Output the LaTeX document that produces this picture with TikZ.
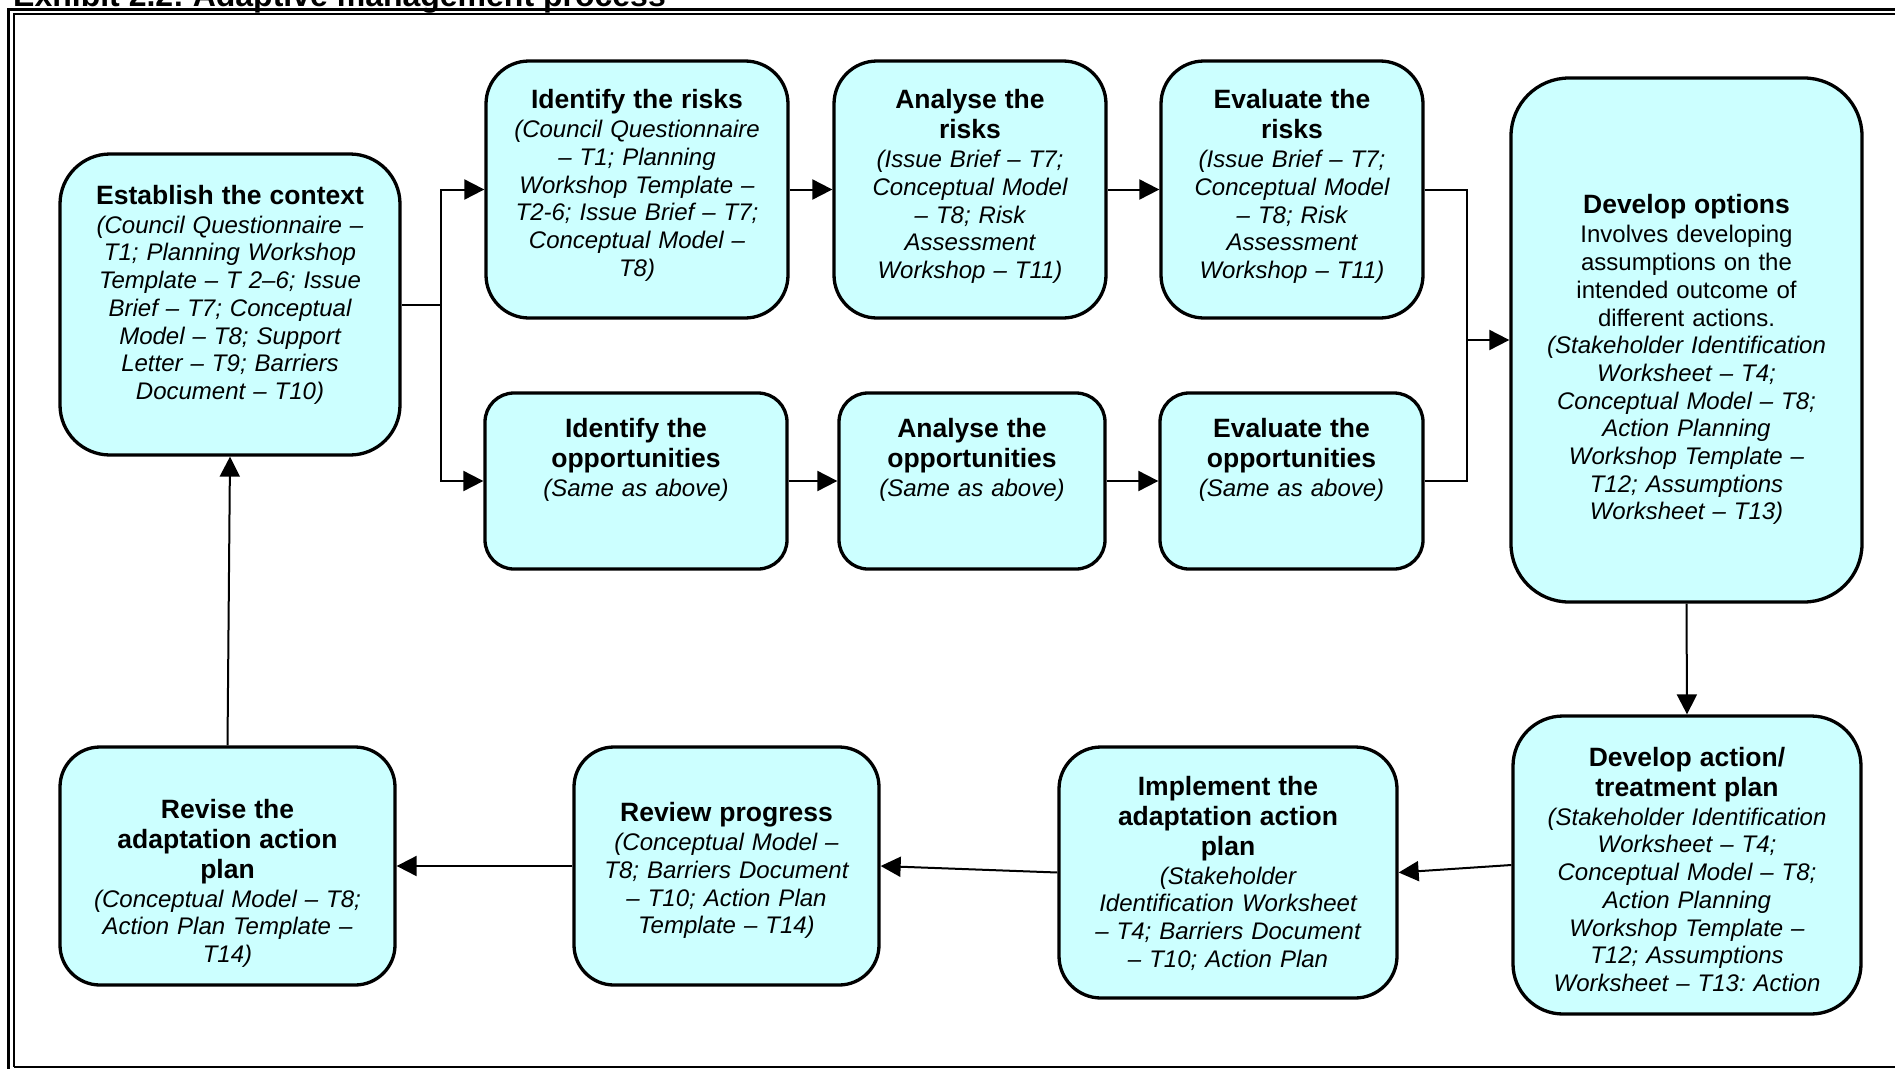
\documentclass[tikz,border=0pt]{standalone}
\usepackage{fontspec}
\setmainfont{Liberation Sans}
\definecolor{mStageFill}{HTML}{CCFFFF}
\usetikzlibrary{arrows.meta}
\frenchspacing

\newcommand{\stagehead}[1]{\noindent{\bfseries\upshape\fontsize{26.5}{30}\selectfont #1\par}\vspace{1.5pt}\noindent}

\begin{document}
\begin{tikzpicture}[x=1pt, y=-1pt,
  stage/.style={draw, line width=3.3pt, fill=mStageFill, rounded corners=#1, inner sep=0pt},
  stagetext/.style={anchor=base, text width=330pt, align=center, inner sep=0pt,
    font=\fontsize{24}{27.7}\selectfont\itshape},
  link/.style={line width=2pt},
  flow/.style={link, -{Triangle[length=20pt, width=20pt]}}]
\useasboundingbox (0,0) rectangle (1895,1068);
\clip (0,0) rectangle (1895,1068);
\node[anchor=base west, inner sep=0pt, font=\fontsize{32}{36}\selectfont\bfseries] (exhibit) at (13,6.5) {Exhibit 2.2: Adaptive management process};
\draw[line width=3.3pt] (8.3,1075) -- (8.3,9.5) -- (1900,9.5);
\draw[line width=2.2pt] (13.8,1066.7) -- (13.8,14) -- (1900,14);
\draw[line width=2pt] (13.8,1066.7) -- (1900,1066.7);

\node[stage=50pt, minimum width=340pt, minimum height=301pt] (context) at (230,304.5) {};
\node[stage=43pt, minimum width=302pt, minimum height=257pt] (idrisk) at (637,189.5) {};
\node[stage=43pt, minimum width=272pt, minimum height=257pt] (anrisk) at (970,189.5) {};
\node[stage=43pt, minimum width=262pt, minimum height=257pt] (evrisk) at (1292,189.5) {};
\node[stage=29pt, minimum width=302pt, minimum height=176pt] (idopp) at (636,481) {};
\node[stage=29pt, minimum width=266pt, minimum height=176pt] (anopp) at (972,481) {};
\node[stage=29pt, minimum width=263pt, minimum height=176pt] (evopp) at (1291.5,481) {};
\node[stage=58pt, minimum width=351pt, minimum height=524pt] (options) at (1686.5,340) {};
\node[stage=50pt, minimum width=348pt, minimum height=298pt] (actplan) at (1687,865) {};
\node[stage=42pt, minimum width=338pt, minimum height=251pt] (implement) at (1228,872.5) {};
\node[stage=40pt, minimum width=305pt, minimum height=238pt] (review) at (726.5,866) {};
\node[stage=40pt, minimum width=335pt, minimum height=238pt] (revise) at (227.5,866) {};

\node[stagetext] (contextT) at (230,204) {\stagehead{Establish the context}(Council Questionnaire –\\ T1; Planning Workshop\\ Template – T 2–6; Issue\\ Brief – T7; Conceptual\\ Model – T8; Support\\ Letter – T9; Barriers\\ Document – T10)};
\node[stagetext] (idriskT) at (637,108.6) {\stagehead{Identify the risks}(Council Questionnaire\\ – T1; Planning\\ Workshop Template –\\ T2-6; Issue Brief – T7;\\ Conceptual Model –\\ T8)};
\node[stagetext] (anriskT) at (970,108.6) {\stagehead{Analyse the\\ risks}(Issue Brief – T7;\\ Conceptual Model\\ – T8; Risk\\ Assessment\\ Workshop – T11)};
\node[stagetext] (evriskT) at (1292,108.6) {\stagehead{Evaluate the\\ risks}(Issue Brief – T7;\\ Conceptual Model\\ – T8; Risk\\ Assessment\\ Workshop – T11)};
\node[stagetext] (idoppT) at (636,437.3) {\stagehead{Identify the\\ opportunities}(Same as above)};
\node[stagetext] (anoppT) at (972,437.3) {\stagehead{Analyse the\\ opportunities}(Same as above)};
\node[stagetext] (evoppT) at (1291.5,437.3) {\stagehead{Evaluate the\\ opportunities}(Same as above)};
\node[stagetext] (optionsT) at (1686.5,213.7) {\stagehead{Develop options}{\upshape Involves developing\\ assumptions on the\\ intended outcome of\\ different actions.}\\ (Stakeholder Identification\\ Worksheet – T4;\\ Conceptual Model – T8;\\ Action Planning\\ Workshop Template –\\ T12; Assumptions\\ Worksheet – T13)};
\node[stagetext] (actplanT) at (1687,766) {\stagehead{Develop action/\\ treatment plan}(Stakeholder Identification\\ Worksheet – T4;\\ Conceptual Model – T8;\\ Action Planning\\ Workshop Template –\\ T12; Assumptions\\ Worksheet – T13: Action};
\node[stagetext] (implementT) at (1228,795) {\stagehead{Implement the\\ adaptation action\\ plan}(Stakeholder\\ Identification Worksheet\\ – T4; Barriers Document\\ – T10; Action Plan};
\node[stagetext] (reviewT) at (726.5,821.6) {\stagehead{Review progress}(Conceptual Model –\\ T8; Barriers Document\\ – T10; Action Plan\\ Template – T14)};
\node[stagetext] (reviseT) at (227.5,818) {\stagehead{Revise the\\ adaptation action\\ plan}(Conceptual Model – T8;\\ Action Plan Template –\\ T14)};

\coordinate (split) at (441,304.5);
\coordinate (join) at (1467,340);
\draw[link] (context.east) -- (split);
\draw[flow] (split) |- (idrisk.west);
\draw[flow] (split) |- (idopp.west);
\draw[flow] (idrisk.east) -- (anrisk.west);
\draw[flow] (anrisk.east) -- (evrisk.west);
\draw[flow] (idopp.east) -- (anopp.west);
\draw[flow] (anopp.east) -- (evopp.west);
\draw[link] (evrisk.east) -| (join);
\draw[link] (evopp.east) -| (join);
\draw[flow] (join) -- (options.west);
\draw[flow] (options.south) -- (actplan.north);
\draw[flow] (actplan.west) -- (implement.east);
\draw[flow] (implement.west) -- (review.east);
\draw[flow] (review.west) -- (revise.east);
\draw[flow] (revise.north) -- (context.south);
\end{tikzpicture}
\end{document}
